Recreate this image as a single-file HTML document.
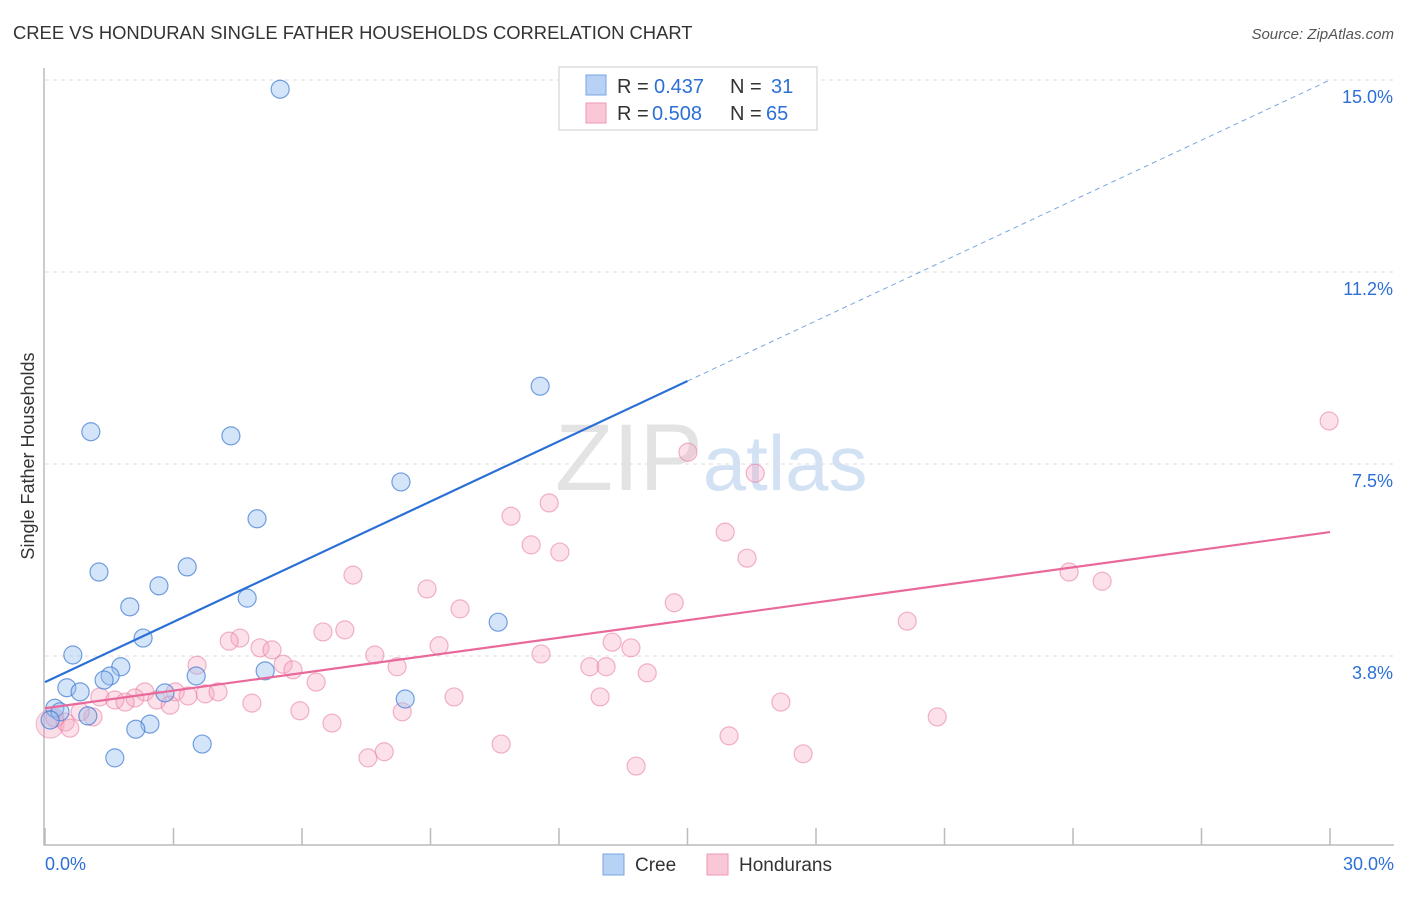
<!DOCTYPE html>
<html><head><meta charset="utf-8"><style>
body{margin:0;background:#fff;font-family:"Liberation Sans",sans-serif;}
svg text{font-family:"Liberation Sans",sans-serif;}
</style></head><body>
<svg id="chart" width="1406" height="892" xmlns="http://www.w3.org/2000/svg">
<text x="13" y="39" font-size="18.4" fill="#333">CREE VS HONDURAN SINGLE FATHER HOUSEHOLDS CORRELATION CHART</text>
<text x="1394" y="39" font-size="15" fill="#555" text-anchor="end" font-style="italic">Source: ZipAtlas.com</text>
<text transform="translate(34,456) rotate(-90)" font-size="18" fill="#333" text-anchor="middle">Single Father Households</text>
<text x="555" y="490" font-size="95" fill="#ddd" font-family="Liberation Serif" opacity="0.8">ZIP<tspan fill="#c8dcf2" font-family="Liberation Sans" font-size="78">atlas</tspan></text>
<g id="grid"></g><g id="axes"></g><g id="pts"></g><g id="lines"></g>
<g>
<rect x="559" y="67" width="258" height="63" fill="#fff" stroke="#ccc"/>
<rect x="586" y="75" width="20" height="20" fill="#b7d2f5" stroke="#7aa6e0"/>
<rect x="586" y="103" width="20" height="20" fill="#f9c7d6" stroke="#ee9ab5"/>
<text x="617" y="93" font-size="20" fill="#333">R =</text>
<text x="654" y="93" font-size="20" fill="#2d6fd6">0.437</text>
<text x="730" y="93" font-size="20" fill="#333">N =</text>
<text x="771" y="93" font-size="20" fill="#2d6fd6">31</text>
<text x="617" y="120" font-size="20" fill="#333">R =</text>
<text x="652" y="120" font-size="20" fill="#2d6fd6">0.508</text>
<text x="730" y="120" font-size="20" fill="#333">N =</text>
<text x="766" y="120" font-size="20" fill="#2d6fd6">65</text>
</g>
<g>
<rect x="603" y="854" width="21" height="21" fill="#b7d2f5" stroke="#7aa6e0"/>
<text x="635" y="871" font-size="19" fill="#333">Cree</text>
<rect x="707" y="854" width="21" height="21" fill="#f9c7d6" stroke="#ee9ab5"/>
<text x="739" y="871" font-size="19" fill="#333">Hondurans</text>
</g>
</svg>
<script>
const yTicks=[15,11.25,7.5,3.75];
const yTickLabels=["15.0%","11.2%","7.5%","3.8%"];
const xTicks=[0,3,6,9,12,15,18,21,24,27,30];
const creeX=[5.49,11.56,1.07,4.34,8.31,4.95,3.32,1.26,2.66,4.72,1.98,10.58,2.29,0.65,1.77,1.52,1.38,3.53,5.14,0.51,0.82,2.80,8.41,0.23,0.35,1.00,2.45,2.12,3.67,1.63,0.12];
const creeY=[14.82,9.02,8.13,8.05,7.15,6.43,5.49,5.39,5.12,4.88,4.71,4.41,4.10,3.77,3.54,3.36,3.28,3.36,3.46,3.13,3.05,3.03,2.91,2.73,2.66,2.58,2.42,2.32,2.03,1.76,2.50];
const honX=[29.98,15.01,16.58,10.88,11.77,15.88,11.35,12.02,16.39,7.19,23.91,24.68,8.92,9.69,14.69,20.13,6.49,7.00,4.55,4.30,5.02,5.30,13.24,13.68,9.20,7.70,11.58,3.55,5.56,5.79,8.22,12.72,13.10,14.06,6.33,3.04,2.33,3.74,4.04,1.28,1.63,2.10,1.87,2.61,3.34,2.92,4.83,5.95,9.55,12.96,17.18,8.34,6.70,20.83,1.12,0.82,0.47,0.23,0.58,10.65,15.97,7.92,7.54,17.70,13.80];
const honY=[8.34,7.73,7.32,6.48,6.74,6.17,5.92,5.78,5.66,5.33,5.39,5.21,5.06,4.67,4.79,4.43,4.22,4.26,4.10,4.04,3.91,3.87,4.02,3.91,3.95,3.77,3.79,3.57,3.59,3.48,3.54,3.54,3.54,3.42,3.24,3.05,3.05,3.01,3.05,2.95,2.89,2.93,2.85,2.89,2.97,2.79,2.83,2.68,2.95,2.95,2.85,2.66,2.44,2.56,2.56,2.66,2.46,2.54,2.34,2.03,2.19,1.88,1.76,1.84,1.60];
const creeLine=[3.24,15.0];
const honLine=[2.73,6.17];
const NS="http://www.w3.org/2000/svg";
const X=v=>45+v*(1285/30), Y=v=>80+(15-v)*51.2;
function mk(p,t,a){const e=document.createElementNS(NS,t);for(const k in a)e.setAttribute(k,a[k]);p.appendChild(e);return e;}
const grid=document.getElementById('grid'),axes=document.getElementById('axes'),pts=document.getElementById('pts'),lines=document.getElementById('lines');
yTicks.forEach((t,i)=>{
 const l=mk(grid,'line',{x1:45,x2:1394,y1:Y(t),y2:Y(t),stroke:'#ddd','stroke-dasharray':'4,4'});
 
 
 const tx=mk(grid,'text',{x:1393,y:Y(t)+23,'font-size':18,fill:'#2d6fd6','text-anchor':'end'});
 tx.textContent=yTickLabels[i];
 
 
});
const ax=mk(axes,'path',{d:'M44,68 V845 H1394',fill:'none',stroke:'#bbb','stroke-width':1.5});


xTicks.forEach(t=>{
 const l=mk(axes,'line',{x1:X(t),x2:X(t),y1:828,y2:845,stroke:'#bbb','stroke-width':1.5});
 
 
});
const xl0=mk(axes,'text',{x:45,y:870,'font-size':18,fill:'#2d6fd6'});xl0.textContent='0.0%';


const xl1=mk(axes,'text',{x:1394,y:870,'font-size':18,fill:'#2d6fd6','text-anchor':'end'});xl1.textContent='30.0%';


mk(pts,'circle',{cx:X(0.12),cy:Y(2.42),r:14,fill:'rgba(240,150,180,0.3)',stroke:'rgba(230,120,160,0.5)'});
honX.forEach((v,i)=>{
 const c=mk(pts,'circle',{cx:X(v),cy:Y(honY[i]),r:9,fill:'rgba(246,170,195,0.35)',stroke:'rgba(232,130,165,0.6)','stroke-width':1.2});
 
 
});
creeX.forEach((v,i)=>{
 const c=mk(pts,'circle',{cx:X(v),cy:Y(creeY[i]),r:9,fill:'rgba(150,190,240,0.4)',stroke:'rgba(60,120,210,0.7)','stroke-width':1.2});
 
 
});
const cy=x=>creeLine[0]+(creeLine[1]-creeLine[0])*x/30;
const b1=mk(lines,'line',{x1:X(0),y1:Y(cy(0)),x2:X(15),y2:Y(cy(15)),stroke:'#2a6fd6','stroke-width':2.2});


const b2=mk(lines,'line',{x1:X(15),y1:Y(cy(15)),x2:X(30),y2:Y(cy(30)),stroke:'#7aa6e0','stroke-width':1,'stroke-dasharray':'5,4'});


const p1=mk(lines,'line',{x1:X(0),y1:Y(honLine[0]),x2:X(30),y2:Y(honLine[1]),stroke:'#e8699a','stroke-width':2.2});


</script>
</body></html>
